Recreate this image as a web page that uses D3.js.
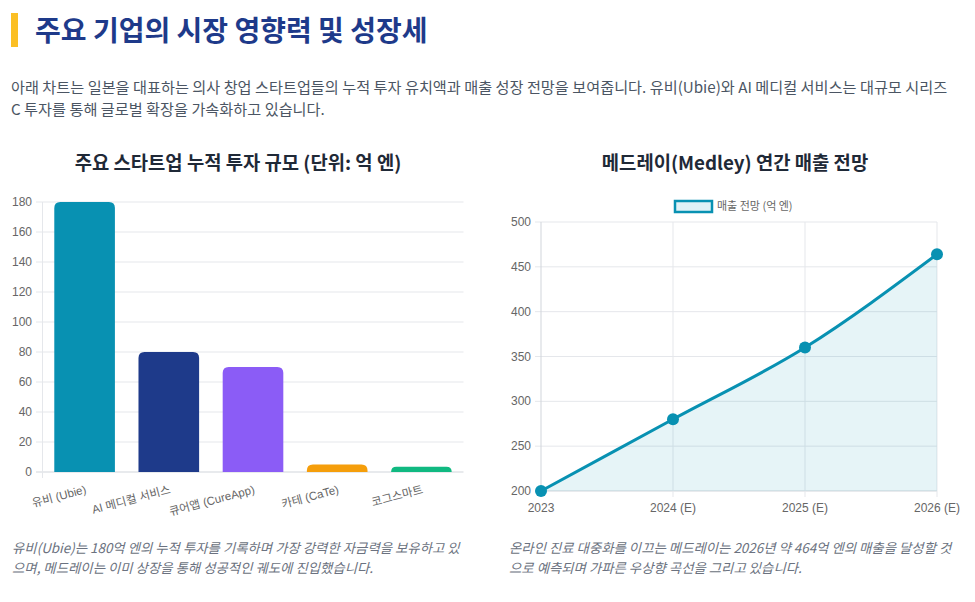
<!DOCTYPE html>
<html><head><meta charset="utf-8">
<script src="https://cdn.jsdelivr.net/npm/d3@7"></script>
<style>
html,body{margin:0;padding:0;background:#fff;}
svg{display:block;}
</style></head>
<body>
<svg id="c" width="975" height="602"></svg>
<script>
const pageTitle = "주요 기업의 시장 영향력 및 성장세";
const introLines = [
  "아래 차트는 일본을 대표하는 의사 창업 스타트업들의 누적 투자 유치액과 매출 성장 전망을 보여줍니다. 유비(Ubie)와 AI 메디컬 서비스는 대규모 시리즈",
  "C 투자를 통해 글로벌 확장을 가속화하고 있습니다."
];
const barTitle = "주요 스타트업 누적 투자 규모 (단위: 억 엔)";
const barCategories = ["유비 (Ubie)", "AI 메디컬 서비스", "큐어앱 (CureApp)", "카테 (CaTe)", "코그스마트"];
const barValues = [180, 80, 70, 5, 3.5];
const barColors = ["#0891b2", "#1e3a8a", "#8b5cf6", "#f59e0b", "#10b981"];
const barTicks = [0, 20, 40, 60, 80, 100, 120, 140, 160, 180];

const lineTitle = "메드레이(Medley) 연간 매출 전망";
const lineSeriesName = "매출 전망 (억 엔)";
const lineCategories = ["2023", "2024 (E)", "2025 (E)", "2026 (E)"];
const lineValues = [200, 280, 360, 464];
const lineTicks = [200, 250, 300, 350, 400, 450, 500];

const leftCaption = [
  "유비(Ubie)는 180억 엔의 누적 투자를 기록하며 가장 강력한 자금력을 보유하고 있",
  "으며, 메드레이는 이미 상장을 통해 성공적인 궤도에 진입했습니다."
];
const rightCaption = [
  "온라인 진료 대중화를 이끄는 메드레이는 2026년 약 464억 엔의 매출을 달성할 것",
  "으로 예측되며 가파른 우상향 곡선을 그리고 있습니다."
];

const KR = "'Noto Sans CJK KR', 'Noto Sans', sans-serif";
const TICKF = "'Liberation Sans', Arial, 'Noto Sans CJK KR', sans-serif";
const svg = d3.select("#c");

// Header
svg.append("rect").attr("x", 11).attr("y", 13).attr("width", 7).attr("height", 34).attr("fill", "#fbbf24");
svg.append("text").attr("x", 35).attr("y", 41).text(pageTitle)
  .attr("font-family", KR).attr("font-weight", 700).attr("font-size", 28).attr("fill", "#1e3a8a");

svg.append("g").selectAll("text").data(introLines).join("text")
  .attr("x", 11).attr("y", (d, i) => 93 + i * 22).text(d => d)
  .attr("font-family", KR).attr("font-size", 15.2).attr("fill", "#4b5563");

// ---------- Bar chart ----------
svg.append("text").attr("x", 238).attr("y", 170).attr("text-anchor", "middle").text(barTitle)
  .attr("font-family", KR).attr("font-weight", 700).attr("font-size", 18.8).attr("fill", "#1f2937");

const bx = d3.scaleBand().domain(barCategories).range([42.5, 463.5]).paddingInner(0).paddingOuter(0);
const by = d3.scaleLinear().domain([0, 180]).range([472, 202]);
const gb = svg.append("g");
gb.append("g").selectAll("line").data(barTicks).join("line")
  .attr("x1", 36).attr("x2", 463.5).attr("y1", d => by(d)).attr("y2", d => by(d))
  .attr("stroke", d => d === 0 ? "#d1d5db" : "#e5e7eb").attr("stroke-width", 1);
gb.append("line").attr("x1", 42.5).attr("x2", 42.5).attr("y1", 202).attr("y2", 478)
  .attr("stroke", "#e5e7eb");
gb.append("g").selectAll("text").data(barTicks).join("text")
  .attr("x", 32).attr("y", d => by(d) + 4).attr("text-anchor", "end").text(d => d)
  .attr("font-family", TICKF).attr("font-size", 12).attr("fill", "#666");

const bw = bx.bandwidth() * 0.72;
function topRounded(x, y, w, h, r) {
  r = Math.min(r, h, w / 2);
  return `M${x},${y + h}V${y + r}Q${x},${y} ${x + r},${y}H${x + w - r}Q${x + w},${y} ${x + w},${y + r}V${y + h}Z`;
}
gb.append("g").selectAll("path").data(barValues).join("path")
  .attr("d", (d, i) => {
    const cx = bx(barCategories[i]) + bx.bandwidth() / 2;
    return topRounded(cx - bw / 2, by(d), bw, by(0) - by(d), 6);
  })
  .attr("fill", (d, i) => barColors[i]);

gb.append("g").selectAll("text").data(barCategories).join("text")
  .attr("transform", d => `translate(${bx(d) + bx.bandwidth() / 2},${484}) rotate(-15)`)
  .attr("text-anchor", "end").attr("dy", "0.8em").text(d => d)
  .attr("font-family", TICKF).attr("font-size", 11.5).attr("fill", "#666");

// ---------- Line chart ----------
svg.append("text").attr("x", 735).attr("y", 170).attr("text-anchor", "middle").text(lineTitle)
  .attr("font-family", KR).attr("font-weight", 700).attr("font-size", 18.8).attr("fill", "#1f2937");

svg.append("rect").attr("x", 675).attr("y", 201).attr("width", 37).attr("height", 11)
  .attr("fill", "#e0f2f7").attr("stroke", "#0891b2").attr("stroke-width", 2.5);
svg.append("text").attr("x", 717).attr("y", 210).text(lineSeriesName)
  .attr("font-family", KR).attr("font-size", 11).attr("fill", "#666");

const lx = d3.scalePoint().domain(lineCategories).range([541, 937]);
const ly = d3.scaleLinear().domain([200, 500]).range([491, 222]);
const gl = svg.append("g");
gl.append("g").selectAll("line").data(lineTicks).join("line")
  .attr("x1", 535).attr("x2", 937).attr("y1", d => ly(d)).attr("y2", d => ly(d))
  .attr("stroke", d => d === 200 ? "#d1d5db" : "#e5e7eb");
gl.append("g").selectAll("line").data(lineCategories).join("line")
  .attr("x1", d => lx(d)).attr("x2", d => lx(d)).attr("y1", 222).attr("y2", 497)
  .attr("stroke", (d, i) => i === 0 ? "#d1d5db" : "#e5e7eb");
gl.append("g").selectAll("text").data(lineTicks).join("text")
  .attr("x", 531).attr("y", d => ly(d) + 4).attr("text-anchor", "end").text(d => d)
  .attr("font-family", TICKF).attr("font-size", 12).attr("fill", "#666");
gl.append("g").selectAll("text").data(lineCategories).join("text")
  .attr("x", d => lx(d)).attr("y", 512).attr("text-anchor", "middle").text(d => d)
  .attr("font-family", TICKF).attr("font-size", 12).attr("fill", "#666");

const pts = lineCategories.map((c, i) => [lx(c), ly(lineValues[i])]);
const curve = d3.curveMonotoneX;
gl.append("path").datum(pts)
  .attr("d", d3.area().x(d => d[0]).y0(ly(200)).y1(d => d[1]).curve(curve))
  .attr("fill", "rgba(8,145,178,0.1)");
gl.append("path").datum(pts)
  .attr("d", d3.line().x(d => d[0]).y(d => d[1]).curve(curve))
  .attr("fill", "none").attr("stroke", "#0891b2").attr("stroke-width", 3);
gl.append("g").selectAll("circle").data(pts).join("circle")
  .attr("cx", d => d[0]).attr("cy", d => d[1]).attr("r", 6)
  .attr("fill", "#0891b2");

function caption(lines, x) {
  svg.append("g").selectAll("text").data(lines).join("text")
    .attr("x", x).attr("y", (d, i) => 553 + i * 20).text(d => d)
    .attr("font-family", KR).attr("font-size", 13.4).attr("font-style", "italic").attr("fill", "#6b7280");
}
caption(leftCaption, 12);
caption(rightCaption, 509);
</script>
</body></html>
